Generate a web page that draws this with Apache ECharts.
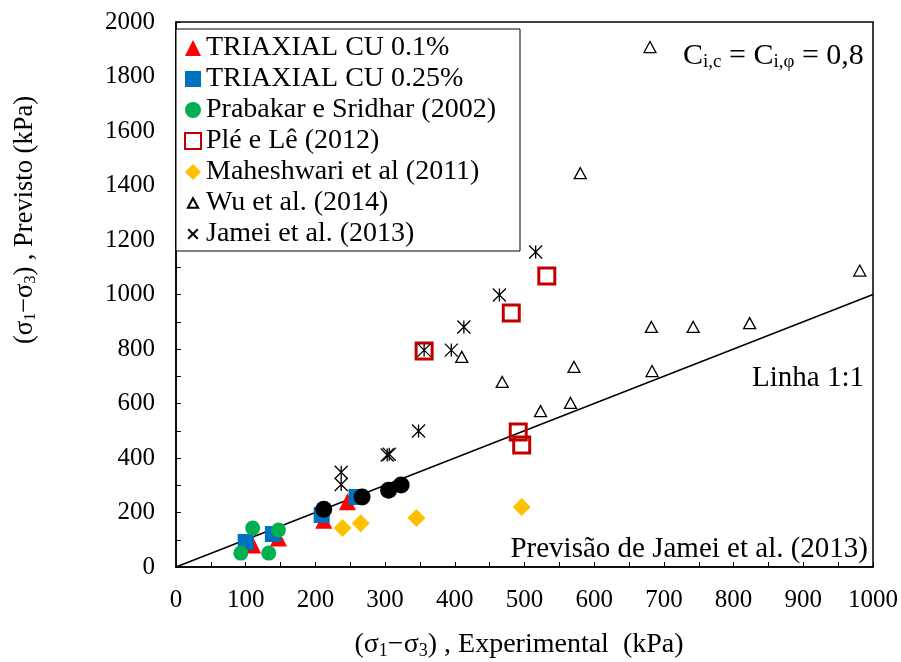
<!DOCTYPE html>
<html><head><meta charset="utf-8">
<script src="https://cdn.jsdelivr.net/npm/echarts@6/dist/echarts.min.js"></script>
<style>html,body{margin:0;padding:0;background:#fff}#c{width:901px;height:662px}</style>
</head><body><div id="c"></div>
<script>
// ---- data (x = experimental, y = predicted), kPa ----
const triaxial01 = [[110,81],[147,106],[212,172],[246,239]];
const triaxial025 = [[100,92],[139,121],[209,191],[259,257]];
const prabakar = [[93,51],[110,143],[133,51],[147,136]];
const pleLe = [[356,793],[481,932],[491,495],[496,448],[532,1068]];
const maheshwari = [[239,143],[265,161],[345,180],[496,220]];
const wu = [[410,771],[468,679],[523,572],[566,602],[571,734],[580,1445],[680,1908],[682,881],[683,719],[742,881],[823,895],[981,1088]];
const jamei = [[237,303],[237,348],[303,411],[306,414],[348,499],[356,796],[395,796],[413,881],[464,998],[516,1156]];
const jameiPrevisao = [[212,212],[267,257],[305,282],[323,301]];
const line11 = [[0,0],[1000,1000]];
const xTicks = {min:0, max:1000, interval:100};
const yTicks = {min:0, max:2000, interval:200};

const FONT = '"Liberation Serif","Times New Roman",serif';
const asterisk = 'path://M0,0L10,10M10,0L0,10M5,0L5,10';
const cross = 'path://M2,2L8,8M8,2L2,8M0,0M10,10';
const smallTri = 'path://M5,2L8.2,8L1.8,8ZM0,0M10,10';

const chart = echarts.init(document.getElementById('c'), null, {renderer:'canvas'});
const axisCommon = {
  type:'value',
  axisLine:{show:true, lineStyle:{color:'#000', width:1.5}},
  axisTick:{show:true, inside:true, length:5, lineStyle:{color:'#000', width:1}},
  minorTick:{show:true, splitNumber:2, length:5, lineStyle:{color:'#000', width:1}},
  splitLine:{show:false},
  axisLabel:{color:'#000', fontFamily:FONT, fontSize:25, margin:21, formatter:v => String(v)}
};
function sc(name, data, symbol, size, style, z){
  return {name, type:'scatter', data, symbol, symbolSize:size, itemStyle:Object.assign({opacity:1}, style), z:z||2,
          emphasis:{disabled:true}, animation:false};
}
const subRich = (big, small, pad) => ({
  a:{fontFamily:FONT, fontSize:big, fill:'#000'},
  s:{fontFamily:FONT, fontSize:small, fill:'#000', padding:[pad,0,0,0]}
});
const option = {
  animation:false,
  grid:{left:176, right:26, top:22, bottom:95, show:true, borderColor:'#000', borderWidth:1.5, containLabel:false},
  xAxis: Object.assign({}, axisCommon, xTicks),
  yAxis: Object.assign({}, axisCommon, yTicks),
  legend:{
    orient:'vertical', left:176, top:29,
    backgroundColor:'#fff', borderColor:'#000', borderWidth:1,
    padding:[5,24,3,8], itemGap:3, itemWidth:16, itemHeight:16,
    textStyle:{fontFamily:FONT, fontSize:28, color:'#000', lineHeight:28},
    selectedMode:false,
    data:[
      {name:'TRIAXIAL CU 0.1%'},
      {name:'TRIAXIAL CU 0.25%'},
      {name:'Prabakar e Sridhar (2002)'},
      {name:'Plé e Lê (2012)'},
      {name:'Maheshwari et al (2011)'},
      {name:'Wu et al. (2014)', icon:smallTri},
      {name:'Jamei et al. (2013)', icon:cross}
    ]
  },
  graphic:[
    {type:'text', x:519, y:645, silent:true, style:{
      text:'{a|(σ}{s|1}{a|−σ}{s|3}{a|) , Experimental  (kPa)}',
      x:0, y:0, align:'center', verticalAlign:'middle', fill:'#000',
      rich:subRich(28,18,12)
    }},
    {type:'text', x:25, y:220, rotation:Math.PI/2, silent:true, style:{
      text:'{a|(σ}{s|1}{a|−σ}{s|3}{a|) , Previsto (kPa)}',
      x:0, y:0, align:'center', verticalAlign:'middle', fill:'#000',
      rich:subRich(26.5,16,12)
    }},
    {type:'text', x:683, y:56, silent:true, z:10, style:{
      text:'{a|C}{s|i,c}{a| = C}{s|i,φ}{a| = 0,8}',
      x:0, y:0, align:'left', verticalAlign:'middle', fill:'#000',
      rich:subRich(30,19,13)
    }},
    {type:'text', x:864, y:378, silent:true, style:{
      text:'Linha 1:1', x:0, y:0, align:'right', verticalAlign:'middle',
      fontFamily:FONT, fontSize:29, fill:'#000'
    }},
    {type:'text', x:868, y:549, silent:true, style:{
      text:'Previsão de Jamei et al. (2013)', x:0, y:0, align:'right', verticalAlign:'middle',
      fontFamily:FONT, fontSize:29, fill:'#000'
    }}
  ],
  series:[
    {name:'Linha 1:1', type:'line', data:line11, symbol:'none', z:1, silent:true,
     lineStyle:{color:'#000', width:1.5}, emphasis:{disabled:true}, animation:false},
    sc('TRIAXIAL CU 0.1%', triaxial01, 'triangle', 17, {color:'#FF0000'}),
    sc('TRIAXIAL CU 0.25%', triaxial025, 'rect', 16, {color:'#0070C0'}),
    sc('Prabakar e Sridhar (2002)', prabakar, 'circle', 15, {color:'#00B050'}),
    sc('Plé e Lê (2012)', pleLe, 'rect', 16, {color:'rgba(255,255,255,0)', borderColor:'#C00000', borderWidth:3}),
    sc('Maheshwari et al (2011)', maheshwari, 'diamond', 18, {color:'#FFC000'}),
    sc('Wu et al. (2014)', wu, 'triangle', [12,11], {color:'#fff', borderColor:'#000', borderWidth:1.3}),
    sc('Jamei et al. (2013)', jamei, asterisk, 13, {color:'#000', borderColor:'#000', borderWidth:1.3}),
    sc('Previsão Jamei', jameiPrevisao, 'circle', 17, {color:'#000'}, 3)
  ]
};
chart.setOption(option);
</script></body></html>
